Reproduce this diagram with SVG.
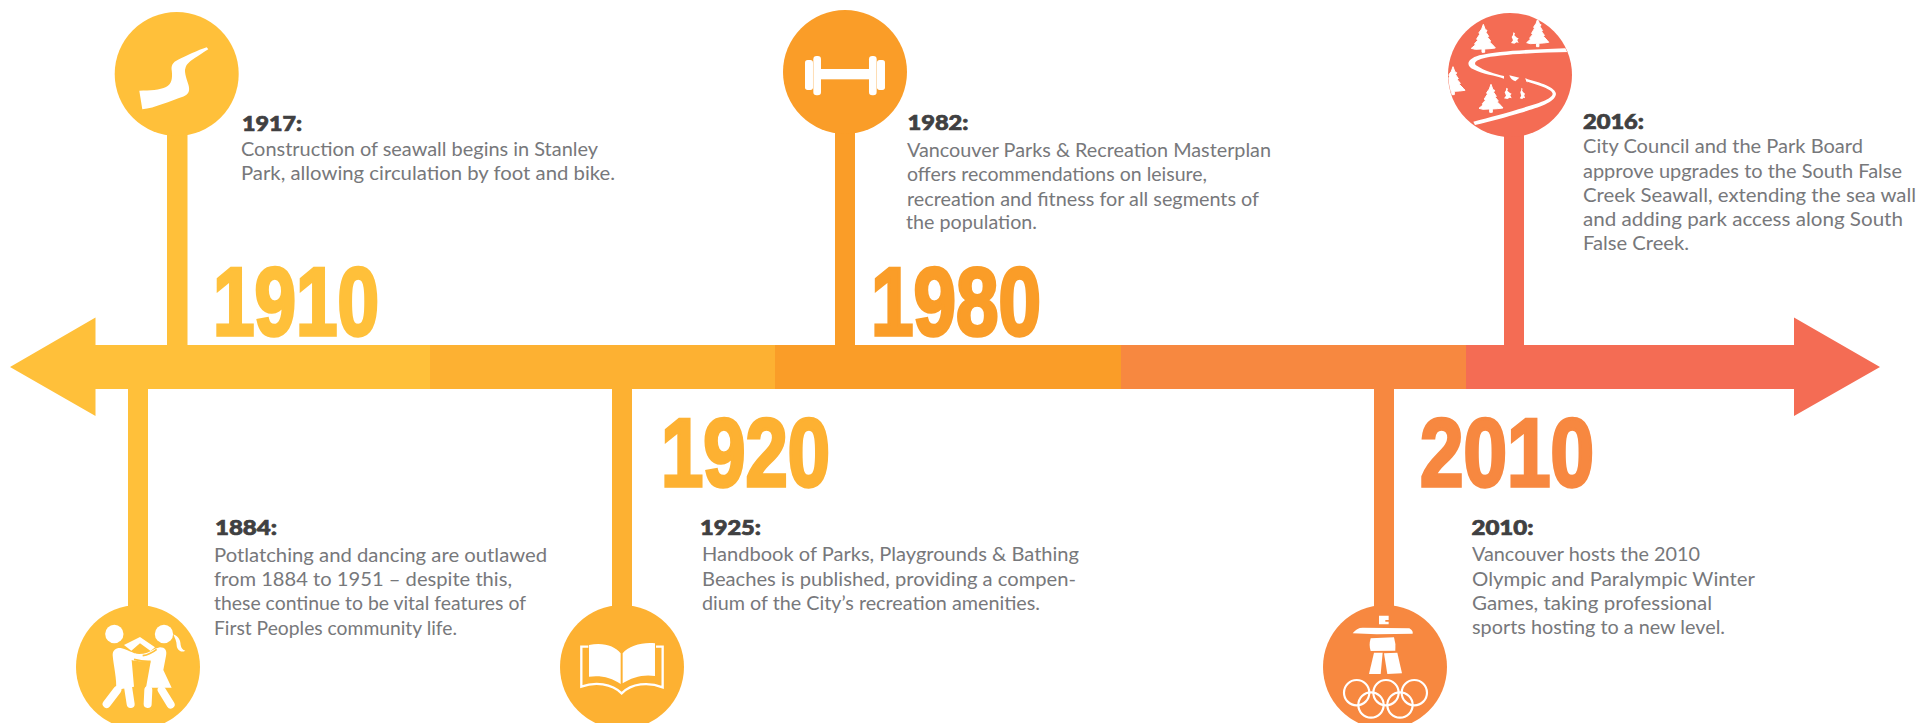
<svg xmlns="http://www.w3.org/2000/svg" width="1929" height="723" viewBox="0 0 1929 723">
<style>
.c1{fill:#FFC03A}.c2{fill:#FDB132}.c3{fill:#FA9D28}.c4{fill:#F78840}.c5{fill:#F46C54}
.w{fill:#fff}
.ws{fill:none;stroke:#fff;stroke-linecap:round;stroke-linejoin:round}
.big{font-family:"Liberation Sans",Arial,sans-serif;font-weight:700;font-size:96px;stroke-width:3.5px;stroke-linejoin:miter}
.yr{font-family:"Lato","Liberation Sans",sans-serif;font-weight:900;font-size:20px;fill:#404041;stroke:#404041;stroke-width:.7px}
.tx{font-family:"Lato","Liberation Sans",sans-serif;font-weight:400;font-size:19.5px;fill:#77787B}
</style>
<defs>
<clipPath id="clipSeawall"><circle cx="210" cy="225" r="185"/></clipPath>
<path id="tree" fill="#fff" stroke="#fff" stroke-width="3" d="M36,0 L42,16 L47,18 L44,24 L52,36 L49,39 L58,50 L55,53 L68,66 L72,71 L56,73 L40,74 L40,84 L32,84 L32,74 L12,75 L0,72 L12,62 L10,58 L19,48 L16,44 L25,30 L23,25 L31,14 Z"/>
<path id="runner" fill="#fff" d="M9,0 L14,3 L12,9 L20,16 L25,18 L21,23 L25,32 L19,30 L12,34 L2,32 L8,24 L4,14 L8,8 Z"/>
</defs>

<g id="connectors">
<rect class="c1" x="167" y="120" width="20.500" height="226"/>
<rect class="c1" x="128" y="388" width="20" height="225"/>
<rect class="c2" x="612" y="388" width="20" height="225"/>
<rect class="c3" x="835" y="120" width="20" height="226"/>
<rect class="c4" x="1374" y="388" width="20" height="225"/>
<rect class="c5" x="1504" y="120" width="20" height="226"/>
<g id="timeline-arrow">
<path class="c1" d="M10,367 L95.500,317.500 V345 H430 V389 H95.500 V416 Z"/>
<rect class="c2" x="430" y="345" width="345" height="44"/>
<rect class="c3" x="775" y="345" width="346" height="44"/>
<rect class="c4" x="1121" y="345" width="345" height="44"/>
<path class="c5" d="M1466,345 H1794 V317.500 L1880,367 L1794,416 V389 H1466 Z"/>
</g>
</g>

<g id="decade-1910"><text class="big c1" stroke="#FFC03A" x="213" y="334.500" textLength="166" lengthAdjust="spacingAndGlyphs">1910</text></g>
<g id="decade-1920"><text class="big c2" stroke="#FDB132" x="661" y="486" textLength="169" lengthAdjust="spacingAndGlyphs">1920</text></g>
<g id="decade-1980"><text class="big c3" stroke="#FA9D28" x="871" y="334.500" textLength="170" lengthAdjust="spacingAndGlyphs">1980</text></g>
<g id="decade-2010"><text class="big c4" stroke="#F78840" x="1420" y="486" textLength="174" lengthAdjust="spacingAndGlyphs">2010</text></g>

<g id="node-1917">
<circle class="c1" cx="176.700" cy="74" r="62"/>
<path class="w" d="M206.700,47.300 C198,50 186,56 178.500,59.500 C172,62.500 171,66 171.800,71 C172.500,78 172,84 166,87 C160,90 150,90.500 139.300,90.700 L142.300,109.300 C155,108 170,101 183.500,96.500 C189,94 190,91 188.500,85 C186,77 184,71 185.500,68 C187,63 190,61 208.300,49.300 Z"/>
<text class="yr" x="242" y="130.500" textLength="60" lengthAdjust="spacingAndGlyphs">1917:</text>
<text class="tx" x="241" y="156" textLength="357" lengthAdjust="spacingAndGlyphs">Construction of seawall begins in Stanley</text>
<text class="tx" x="241" y="180" textLength="374" lengthAdjust="spacingAndGlyphs">Park, allowing circulation by foot and bike.</text>
</g>

<g id="node-1884">
<circle class="c1" cx="138" cy="667" r="62"/>
<g transform="translate(60 590) scale(.3333)">
<circle class="w" cx="163" cy="132" r="27.500"/>
<circle class="w" cx="312" cy="132" r="27.500"/>
<path class="w" d="M340,133 C352,138 362,148 362,165 C364,175 368,180 376,182 C362,190 350,178 350,165 C350,155 345,145 340,133 Z"/>
<path class="ws" stroke-width="24" d="M172,300 L140,342 M204,290 L212,342"/>
<path class="w" d="M158,195 C158,178 172,172 185,175 C205,180 230,195 245,197 L248,213 C235,215 222,212 215,210 L222,290 L168,300 C172,270 160,225 158,195 Z"/>
<path class="ws" stroke-width="24" d="M265,300 L263,342 M305,300 L332,344"/>
<path class="w" d="M300,172 C315,172 322,182 318,198 L310,240 L335,293 L258,293 L272,215 C255,215 235,213 222,207 L224,190 C240,195 265,190 285,176 Z"/>
<path fill="none" stroke="#FFC03A" stroke-width="5" d="M222,208 C240,213 255,215 272,214 M248,197 C262,195 275,190 290,178"/>
<path class="w" d="M192,165 L240,141 L285,172 L272,183 L240,160 L214,182 Z"/>
</g>
<text class="yr" x="215" y="535" textLength="62" lengthAdjust="spacingAndGlyphs">1884:</text>
<text class="tx" x="214" y="561.500" textLength="333" lengthAdjust="spacingAndGlyphs">Potlatching and dancing are outlawed</text>
<text class="tx" x="214" y="586" textLength="298" lengthAdjust="spacingAndGlyphs">from 1884 to 1951 – despite this,</text>
<text class="tx" x="214" y="610" textLength="312" lengthAdjust="spacingAndGlyphs">these continue to be vital features of</text>
<text class="tx" x="214" y="635" textLength="243" lengthAdjust="spacingAndGlyphs">First Peoples community life.</text>
</g>

<g id="node-1925">
<circle class="c2" cx="622" cy="667" r="62"/>
<g transform="translate(540 590) scale(.3333)">
<path class="w" d="M147,165 C190,156 225,168 242,190 L242,282 C215,262 180,255 147,260 Z"/>
<path class="w" d="M248,190 C265,168 310,155 345,160 L345,258 C310,252 275,262 248,280 Z"/>
<path fill="none" stroke="#fff" stroke-width="7" d="M145,170 H124 V290 C165,275 215,280 245,310 C275,280 325,275 368,292 V170 H348"/>
</g>
<text class="yr" x="700" y="535" textLength="61" lengthAdjust="spacingAndGlyphs">1925:</text>
<text class="tx" x="702" y="561" textLength="377" lengthAdjust="spacingAndGlyphs">Handbook of Parks, Playgrounds &amp; Bathing</text>
<text class="tx" x="702" y="586" textLength="374" lengthAdjust="spacingAndGlyphs">Beaches is published, providing a compen-</text>
<text class="tx" x="702" y="610" textLength="338" lengthAdjust="spacingAndGlyphs">dium of the City’s recreation amenities.</text>
</g>

<g id="node-1982">
<circle class="c3" cx="845" cy="72" r="62"/>
<g transform="translate(770 0) scale(.3333)">
<rect class="w" x="150" y="207" width="150" height="31"/>
<rect class="w" x="130" y="168" width="23" height="118" rx="10"/>
<rect class="w" x="105" y="180" width="24" height="90" rx="8"/>
<rect class="w" x="297" y="168" width="23" height="118" rx="10"/>
<rect class="w" x="321" y="180" width="24" height="90" rx="8"/>
</g>
<text class="yr" x="907.500" y="130" textLength="61" lengthAdjust="spacingAndGlyphs">1982:</text>
<text class="tx" x="907" y="157" textLength="364" lengthAdjust="spacingAndGlyphs">Vancouver Parks &amp; Recreation Masterplan</text>
<text class="tx" x="907" y="181" textLength="300" lengthAdjust="spacingAndGlyphs">offers recommendations on leisure,</text>
<text class="tx" x="907" y="205.500" textLength="352" lengthAdjust="spacingAndGlyphs">recreation and fitness for all segments of</text>
<text class="tx" x="906" y="229" textLength="131" lengthAdjust="spacingAndGlyphs">the population.</text>
</g>

<g id="node-2010">
<circle class="c4" cx="1385" cy="667" r="62"/>
<g transform="translate(1310 590) scale(.3333)">
<path class="w" d="M207,77 H236 V90 H226 V95 H236 V103 H207 Z"/>
<path class="w" d="M128,130 Q140,113 158,113 L298,115 Q310,122 308,131 L200,133 Z"/>
<path class="w" d="M182,145 L252,142 Q258,160 256,182 L182,183 Q176,165 182,145 Z"/>
<path class="w" d="M192,188 L218,188 L212,252 L177,252 Z"/>
<path class="w" d="M222,190 L262,188 L276,250 L232,252 Z"/>
<g fill="none" stroke="#fff" stroke-width="6.500">
<circle cx="140" cy="308" r="38"/><circle cx="228" cy="308" r="38"/><circle cx="313" cy="308" r="38"/>
<circle cx="183" cy="345" r="38"/><circle cx="270" cy="345" r="38"/>
</g>
</g>
<text class="yr" x="1471.500" y="535" textLength="62" lengthAdjust="spacingAndGlyphs">2010:</text>
<text class="tx" x="1472" y="561" textLength="228" lengthAdjust="spacingAndGlyphs">Vancouver hosts the 2010</text>
<text class="tx" x="1472" y="586" textLength="283" lengthAdjust="spacingAndGlyphs">Olympic and Paralympic Winter</text>
<text class="tx" x="1472" y="610" textLength="240" lengthAdjust="spacingAndGlyphs">Games, taking professional</text>
<text class="tx" x="1472" y="634" textLength="253" lengthAdjust="spacingAndGlyphs">sports hosting to a new level.</text>
</g>

<g id="node-2016">
<circle class="c5" cx="1510" cy="75" r="62"/>
<g transform="translate(1440 0) scale(.3333)">
<g clip-path="url(#clipSeawall)">
<use href="#tree" transform="translate(94 73)"/>
<use href="#tree" transform="translate(260 56) scale(.92 1)"/>
<use href="#tree" transform="translate(3 200)"/>
<use href="#tree" transform="translate(117 253)"/>
<use href="#runner" transform="translate(211 97)"/>
<use href="#runner" transform="translate(190 263)"/>
<use href="#runner" transform="translate(238 263) scale(.7 1)"/>
<path class="w" d="M208,226 L238,233 L226,244 Q212,240 208,226 Z"/>
<path class="w" d="M255,235 L262,237 L262,248 Z"/>
<path class="w" d="M390,144 C300,148 180,150 118,166 C78,178 78,198 100,208 C130,224 165,226 192,236 L192,228 C165,222 135,214 108,196 C100,188 110,180 125,176 C180,162 300,158 390,156 Z"/>
<path class="w" d="M258,236 C300,247 348,262 348,282 C345,310 285,325 240,339 C200,351 150,365 105,375 L100,365 C150,352 200,340 235,328 C280,314 335,300 338,282 C338,268 295,256 258,244 Z"/>
</g>
</g>
<text class="yr" x="1583" y="129" textLength="61" lengthAdjust="spacingAndGlyphs">2016:</text>
<text class="tx" x="1583" y="153" textLength="280" lengthAdjust="spacingAndGlyphs">City Council and the Park Board</text>
<text class="tx" x="1583" y="177.500" textLength="319" lengthAdjust="spacingAndGlyphs">approve upgrades to the South False</text>
<text class="tx" x="1583" y="202" textLength="333" lengthAdjust="spacingAndGlyphs">Creek Seawall, extending the sea wall</text>
<text class="tx" x="1583" y="226" textLength="320" lengthAdjust="spacingAndGlyphs">and adding park access along South</text>
<text class="tx" x="1583" y="249.500" textLength="106" lengthAdjust="spacingAndGlyphs">False Creek.</text>
</g>
</svg>
